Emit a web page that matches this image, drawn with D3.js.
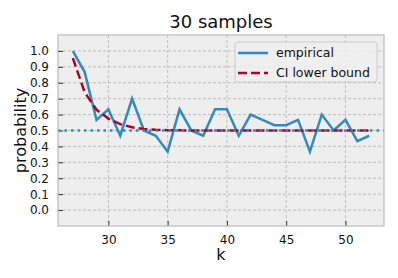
<!DOCTYPE html>
<html>
<head>
<meta charset="utf-8">
<script src="https://cdn.jsdelivr.net/npm/d3@7"></script>
<style>
  html, body { margin: 0; padding: 0; background: #fff; }
  svg { display: block; font-family: "DejaVu Sans", sans-serif; }
</style>
</head>
<body>
<div id="chart"></div>
<script>
// Дані графіка
const kValues = [27, 28, 29, 30, 31, 32, 33, 34, 35, 36, 37, 38, 39, 40, 41, 42, 43, 44, 45, 46, 47, 48, 49, 50, 51, 52];
const empirical = [1.0, 0.867, 0.567, 0.633, 0.467, 0.7, 0.5, 0.467, 0.367, 0.633, 0.5, 0.467, 0.633, 0.633, 0.467, 0.6, 0.567, 0.533, 0.533, 0.567, 0.367, 0.6, 0.5, 0.567, 0.433, 0.467];
const ciLower = [0.955, 0.74, 0.63, 0.575, 0.54, 0.52, 0.51, 0.505, 0.502, 0.501, 0.5, 0.5, 0.5, 0.5, 0.5, 0.5, 0.5, 0.5, 0.5, 0.5, 0.5, 0.5, 0.5, 0.5, 0.5, 0.5];
const refLevel = 0.5;
const xTicks = [30, 35, 40, 45, 50];
const yTicks = [0.0, 0.1, 0.2, 0.3, 0.4, 0.5, 0.6, 0.7, 0.8, 0.9, 1.0];
const titleText = '30 samples';
const legendLabels = ['empirical', 'CI lower bound'];

const WIDTH = 398;
const HEIGHT = 278;
const M = { left: 58, right: 14, top: 35, bottom: 52 };
const BLUE = '#348ABD';
const RED = '#A60628';

const svg = d3.select('#chart').append('svg')
    .attr('width', WIDTH)
    .attr('height', HEIGHT);

const x = d3.scaleLinear().domain([25.75, 53.25]).range([M.left, WIDTH - M.right]);
const y = d3.scaleLinear().domain([-0.1, 1.1]).range([HEIGHT - M.bottom, M.top]);

// Фон області графіка
svg.append('rect')
    .attr('x', M.left).attr('y', M.top)
    .attr('width', WIDTH - M.left - M.right)
    .attr('height', HEIGHT - M.top - M.bottom)
    .attr('fill', '#eeeeee');

// Сітка
const grid = svg.append('g');
grid.selectAll('.gx').data(xTicks).enter().append('line')
    .attr('x1', d => x(d)).attr('x2', d => x(d))
    .attr('y1', M.top).attr('y2', HEIGHT - M.bottom)
    .attr('stroke', '#b2b2b2').attr('stroke-width', 0.8)
    .attr('stroke-dasharray', '3,2');
grid.selectAll('.gy').data(yTicks).enter().append('line')
    .attr('x1', M.left).attr('x2', WIDTH - M.right)
    .attr('y1', d => y(d)).attr('y2', d => y(d))
    .attr('stroke', '#b2b2b2').attr('stroke-width', 0.8)
    .attr('stroke-dasharray', '3,2');

// Осі (тики всередину)
const xAxis = svg.append('g')
    .attr('transform', `translate(0,${HEIGHT - M.bottom})`)
    .call(d3.axisBottom(x).tickValues(xTicks).tickFormat(d3.format('d'))
        .tickSizeInner(-5).tickSizeOuter(0).tickPadding(9));
const yAxis = svg.append('g')
    .attr('transform', `translate(${M.left},0)`)
    .call(d3.axisLeft(y).tickValues(yTicks).tickFormat(d3.format('.1f'))
        .tickSizeInner(-5).tickSizeOuter(0).tickPadding(9));
[xAxis, yAxis].forEach(a => {
    a.select('.domain').remove();
    a.selectAll('.tick line').attr('stroke', '#333').attr('stroke-width', 1);
    a.selectAll('.tick text').attr('font-size', 12).attr('fill', '#111')
        .attr('font-family', '"DejaVu Sans", sans-serif');
});

// Лінії даних
const pts = kValues.map((k, i) => ({ k, e: empirical[i], c: ciLower[i] }));
const lineE = d3.line().x(d => x(d.k)).y(d => y(d.e));
const lineC = d3.line().x(d => x(d.k)).y(d => y(d.c));

svg.append('path').datum(pts)
    .attr('d', lineE)
    .attr('fill', 'none').attr('stroke', BLUE)
    .attr('stroke-width', 2.5).attr('stroke-linejoin', 'miter');

svg.append('path').datum(pts)
    .attr('d', lineC)
    .attr('fill', 'none').attr('stroke', RED)
    .attr('stroke-width', 2.5).attr('stroke-dasharray', '9,4');

svg.append('line')
    .attr('x1', M.left).attr('x2', WIDTH - M.right)
    .attr('y1', y(refLevel)).attr('y2', y(refLevel))
    .attr('stroke', BLUE).attr('stroke-width', 2.5)
    .attr('stroke-dasharray', '2.5,4');

// Рамка
svg.append('rect')
    .attr('x', M.left).attr('y', M.top)
    .attr('width', WIDTH - M.left - M.right)
    .attr('height', HEIGHT - M.top - M.bottom)
    .attr('fill', 'none').attr('stroke', '#bcbcbc').attr('stroke-width', 1.2);

// Легенда
const lg = svg.append('g').attr('transform', 'translate(235,42)');
lg.append('rect')
    .attr('width', 142).attr('height', 40).attr('rx', 3)
    .attr('fill', '#eeeeee').attr('fill-opacity', 0.85)
    .attr('stroke', '#cccccc').attr('stroke-width', 1);
const styles = [{ c: BLUE, dash: null }, { c: RED, dash: '9,4' }];
legendLabels.forEach((lab, i) => {
    const row = lg.append('g').attr('transform', `translate(0,${11 + i * 20})`);
    row.append('line')
        .attr('x1', 3).attr('x2', 33).attr('y1', 0).attr('y2', 0)
        .attr('stroke', styles[i].c).attr('stroke-width', 2.5)
        .attr('stroke-dasharray', styles[i].dash);
    row.append('text')
        .attr('x', 41).attr('y', 0).attr('dy', '0.35em')
        .attr('font-size', 12.5).attr('fill', '#111')
        .text(lab);
});

// Заголовок і підписи осей
svg.append('text')
    .attr('x', (M.left + WIDTH - M.right) / 2).attr('y', 28)
    .attr('text-anchor', 'middle').attr('font-size', 18).attr('fill', '#111')
    .text(titleText);
svg.append('text')
    .attr('x', (M.left + WIDTH - M.right) / 2).attr('y', 260)
    .attr('text-anchor', 'middle').attr('font-size', 16).attr('fill', '#111')
    .text('k');
svg.append('text')
    .attr('transform', `translate(26,${(M.top + HEIGHT - M.bottom) / 2}) rotate(-90)`)
    .attr('text-anchor', 'middle').attr('font-size', 16).attr('fill', '#111')
    .text('probability');
</script>
</body>
</html>
